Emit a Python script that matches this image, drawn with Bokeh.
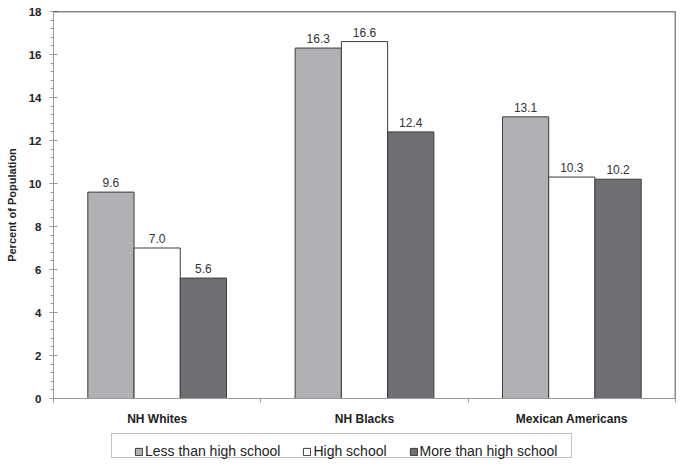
import numpy as np
from bokeh.plotting import figure
from bokeh.models import (ColumnDataSource, Range1d, FixedTicker, Legend, LegendItem, Span, BoxAnnotation)
from bokeh.layouts import column
from bokeh.transform import dodge
from bokeh.core.properties import value
from bokeh.embed import file_html
from bokeh.resources import INLINE

categories = ["NH Whites", "NH Blacks", "Mexican Americans"]
series_names = ["Less than high school", "High school", "More than high school"]
less_than_hs = [9.6, 16.3, 13.1]
high_school = [7.0, 16.6, 10.3]
more_than_hs = [5.6, 12.4, 10.2]
y_ticks = [0, 2, 4, 6, 8, 10, 12, 14, 16, 18]
y_title = "Percent of Population"

FONT = "Liberation Sans"
colors = ["#b1b1b5", "#ffffff", "#707074"]
bw = 0.223

xc = [i + 0.5 for i in range(len(categories))]
src = ColumnDataSource(dict(
    xc=xc,
    v0=less_than_hs, v1=high_school, v2=more_than_hs,
    t0=[f"{v:.1f}" for v in less_than_hs],
    t1=[f"{v:.1f}" for v in high_school],
    t2=[f"{v:.1f}" for v in more_than_hs],
))

p = figure(width=677, height=432, output_backend="svg", toolbar_location=None,
           x_range=Range1d(0, 3), y_range=Range1d(0, 18),
           min_border_left=53, min_border_right=2, min_border_top=11, min_border_bottom=34)
p.outline_line_color = None
p.xgrid.visible = False
p.ygrid.visible = False
p.background_fill_color = "white"
p.border_fill_color = "white"

offsets = [-bw, 0.0, bw]
for k in range(3):
    p.vbar(x=dodge("xc", offsets[k], range=p.x_range), top=f"v{k}", width=bw,
           bottom=0, source=src, fill_color=colors[k], line_color="#3c3c3c", line_width=1)
    p.text(x=dodge("xc", offsets[k], range=p.x_range), y=f"v{k}", text=f"t{k}", source=src,
           text_align="center", text_baseline="bottom", y_offset=-5,
           text_font=value(FONT), text_font_size="12px", text_color="#333333")

# frame top and right borders
p.add_layout(Span(location=18, dimension="width", line_color="#111111", line_width=1.5))
p.add_layout(Span(location=3, dimension="height", line_color="#111111", line_width=1.5))

# y axis
ya = p.yaxis[0]
ya.ticker = FixedTicker(ticks=y_ticks, minor_ticks=[round(i * 0.4, 1) for i in range(46)])
ya.axis_line_color = "#999999"
ya.major_tick_line_color = "#999999"
ya.minor_tick_line_color = "#999999"
ya.major_tick_in = 4
ya.major_tick_out = 4
ya.minor_tick_in = 0
ya.minor_tick_out = 3
ya.major_label_standoff = 8
ya.major_label_text_font = FONT
ya.major_label_text_font_style = "bold"
ya.major_label_text_font_size = "11.5px"
ya.major_label_text_color = "#222222"
ya.axis_label = y_title
ya.axis_label_text_font = FONT
ya.axis_label_text_font_style = "bold"
ya.axis_label_text_font_size = "11px"
ya.axis_label_text_color = "#222222"
ya.axis_label_standoff = 8

# x axis
xa = p.xaxis[0]
xa.ticker = FixedTicker(ticks=xc, minor_ticks=[0, 1, 2, 3])
xa.major_label_overrides = {x: c for x, c in zip(xc, categories)}
xa.axis_line_color = "#999999"
xa.major_tick_line_color = None
xa.major_tick_in = 0
xa.major_tick_out = 0
xa.minor_tick_line_color = "#999999"
xa.minor_tick_in = 0
xa.minor_tick_out = 4
xa.major_label_standoff = 9
xa.major_label_text_font = FONT
xa.major_label_text_font_style = "bold"
xa.major_label_text_font_size = "12px"
xa.major_label_text_color = "#222222"

# legend strip: swatch renderers hold no drawable point, only the legend shows
lg = figure(width=677, height=32, output_backend="svg", toolbar_location=None,
            x_range=Range1d(10, 11), y_range=Range1d(0, 1),
            min_border_left=0, min_border_right=0, min_border_top=0, min_border_bottom=0)
lg.axis.visible = False
lg.grid.visible = False
lg.outline_line_color = None
lg.background_fill_color = "white"
lg.border_fill_color = "white"
swatch_src = ColumnDataSource(dict(x=[np.nan], top=[np.nan]))
items = []
for k in range(3):
    r = lg.vbar(x="x", top="top", width=bw, source=swatch_src,
                fill_color=colors[k], line_color="#3c3c3c", line_width=1)
    items.append(LegendItem(label=series_names[k], renderers=[r]))
lg.add_layout(BoxAnnotation(left=58, right=518, top=7, bottom=31,
                            left_units="screen", right_units="screen",
                            top_units="screen", bottom_units="screen",
                            fill_color=None, line_color="#333333", line_width=1))
legend = Legend(items=items, orientation="horizontal", location=(81, 5),
                glyph_width=9, glyph_height=9, label_standoff=2, spacing=22,
                padding=0, label_height=16, margin=0,
                label_text_font=FONT, label_text_font_size="14px", label_text_color="#222222",
                border_line_color=None, background_fill_alpha=0.0)
lg.add_layout(legend, "center")

layout = column(p, lg, spacing=0)
open("out.html", "w").write(file_html(layout, INLINE))
